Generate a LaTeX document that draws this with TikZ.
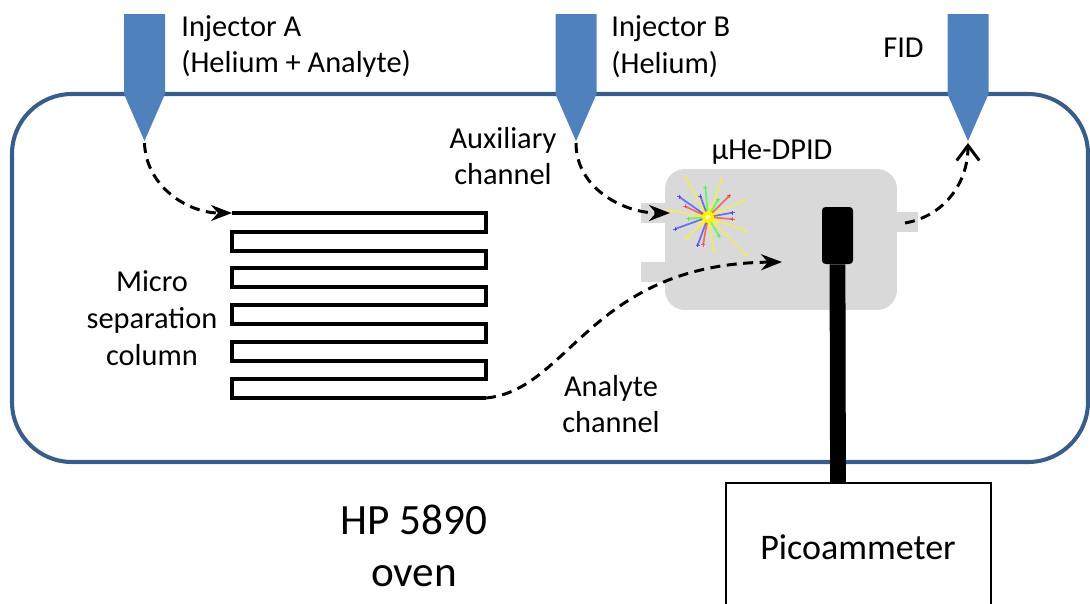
\documentclass[tikz,border=0pt]{standalone}
\usepackage{fontspec}
\setmainfont{Carlito}
\usetikzlibrary{arrows.meta,positioning}

\definecolor{ovenblue}{HTML}{385D8A}
\definecolor{injblue}{HTML}{4F81BD}
\definecolor{boxgray}{HTML}{D9D9D9}

\tikzset{
  flow/.style={line width=1.7pt, dash pattern=on 0.2cm off 0.13cm,
    -{Stealth[length=0.42cm,width=0.32cm,inset=0.14cm]}},
  txt/.style={font=\fontsize{17.3}{21}\selectfont, inner sep=0pt, align=center},
}

\begin{document}
\begin{tikzpicture}[x=0.02cm, y=-0.02cm]
  \useasboundingbox (0,0) rectangle (1090,603);

  % Define the main points
  \coordinate (colin) at (232,213);
  \coordinate (colout) at (486,398);
  \coordinate (auxin) at (670,213);
  \coordinate (anain) at (782,262);
  \coordinate (fidout) at (905,223);
  \coordinate (spark) at (708,217);

  % Draw the oven wall
  \draw[ovenblue, line width=2.3pt, rounded corners=1.2cm] (12,94) rectangle (1088,462);

  % Draw the three injectors as blue needles
  \foreach \x/\n in {144.5/A, 576/B, 968/F} {
    \fill[injblue] (\x-20.5,14) -- (\x+20.5,14) -- (\x+20.5,94) -- (\x,141) -- (\x-20.5,94) -- cycle;
    \coordinate (tip\n) at (\x,143);
  }

  % Draw the separation column
  \draw[line width=1.8pt] (colin) -- (486,213) -- (486,232) -- (232,232) -- (232,251)
    -- (486,251) -- (486,268) -- (232,268) -- (232,287)
    -- (486,287) -- (486,305) -- (232,305) -- (232,324)
    -- (486,324) -- (486,342) -- (232,342) -- (232,361)
    -- (486,361) -- (486,379) -- (232,379) -- (232,398) -- (colout);

  % Draw the detector body with its ports
  \fill[boxgray] (641,203) rectangle (670,223);
  \fill[boxgray] (641,262) rectangle (670,282);
  \fill[boxgray] (890,212) rectangle (918,232);
  \node[fill=boxgray, rounded corners=0.4cm, minimum width=4.64cm, minimum height=2.82cm] (dpid) at (781,239.5) {};

  % Draw the plasma spark
  \shade[inner color=yellow!70!white, outer color=boxgray] (spark) circle (14);
  \foreach \a/\r/\c in {20/40/yellow, 45/55/yellow, 80/35/yellow, 110/30/blue, 135/30/yellow,
      160/35/blue, 190/40/yellow, 215/35/blue, 240/45/yellow, 265/30/green, 290/40/yellow,
      315/30/red, 335/40/yellow, 5/25/red, 60/22/green, 100/28/red, 175/20/green,
      205/25/red, 250/22/blue, 300/20/green, 350/25/blue} {
    \draw[\c!85!white, line width=1pt, opacity=0.6] (spark) -- ++(\a:\r);
    \draw[\c!85!white, line width=0.5pt, opacity=0.7] (spark) ++(\a:\r) ++(-2,0) -- ++(4,0) ++(-2,-2) -- ++(0,4);
  }
  \fill[yellow] (spark) circle (6);
  \fill[yellow!40!white] (spark) circle (2.5);

  % Draw the collector electrode and the picoammeter
  \node[fill=black, rounded corners=2pt, minimum width=0.62cm, minimum height=1.14cm, inner sep=0pt] (elec) at (837.5,235.5) {};
  \node[font=\fontsize{20.5}{24}\selectfont, inner sep=0pt] (pico) at (858,547) {Picoammeter};
  \coordinate (picotop) at (838,483);
  \draw[line width=1.4pt] (726,610) -- (726,483) -- (991,483) -- (991,610);
  \draw[line width=9pt] (elec.south) -- (picotop);

  % Draw the gas flows
  \draw[flow] (tipA) to[out=-88, in=180] (colin);
  \draw[flow] (tipB) to[out=-90, in=180] (auxin);
  \draw[flow] (colout) .. controls (570,390) and (590,264) .. (anain);
  \draw[flow, -{Straight Barb[length=0.3cm,width=0.45cm]}] (fidout) to[out=10, in=-90] (tipF);

  % Labels
  \node[txt, anchor=west, align=left] (injA) at (181,46.5) {Injector A\\(Helium + Analyte)};
  \node[txt, anchor=west, align=left] (injB) at (611,46.5) {Injector B\\(Helium)};
  \node[txt, anchor=west] (fid) at (883,48) {FID};
  \node[txt] (aux) at (503,156) {Auxiliary\\channel};
  \node[txt] (dpidlabel) at (772,152) {µHe-DPID};
  \node[txt] (col) at (152,318) {Micro\\separation\\column};
  \node[txt] (ana) at (611,404) {Analyte\\channel};
  \node[txt, font=\fontsize{24.6}{30}\selectfont] (oven) at (414,546) {HP 5890\\oven};
\end{tikzpicture}
\end{document}
